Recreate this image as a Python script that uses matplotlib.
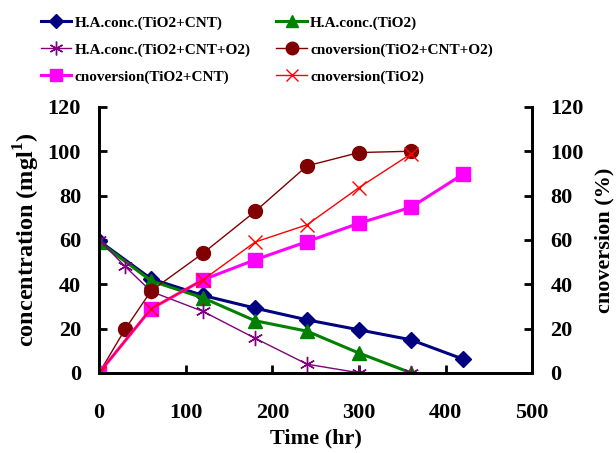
import numpy as np
import matplotlib.pyplot as plt

plt.rcParams['font.family'] = ['Liberation Serif', 'DejaVu Serif']
plt.rcParams['font.weight'] = 'bold'
plt.rcParams['mathtext.fontset'] = 'custom'
plt.rcParams['mathtext.rm'] = 'Liberation Serif:bold'

# concentration (left axis)
t_blue = [0, 60, 120, 180, 240, 300, 360, 420]
conc_tio2_cnt = [59.5, 42.4, 34.9, 29.2, 23.9, 19.4, 14.9, 6.2]
t_green = [0, 60, 120, 180, 240, 300, 360]
conc_tio2 = [59, 41.5, 33.8, 23.5, 18.8, 8.9, 0]
t_purple = [0, 30, 60, 120, 180, 240, 300, 360]
conc_tio2_cnt_o2 = [60, 48, 36.7, 27.7, 15.6, 3.9, 0, 0]

# conversion (right axis)
t_maroon = [0, 30, 60, 120, 180, 240, 300, 360]
conv_tio2_cnt_o2 = [0, 19.7, 37, 54, 72.8, 93.4, 99.4, 100]
t_mag = [0, 60, 120, 180, 240, 300, 360, 420]
conv_tio2_cnt = [0, 28.9, 42, 51, 59.2, 67.5, 74.7, 89.6]
t_red = [0, 60, 120, 180, 240, 300, 360]
conv_tio2 = [0, 29, 42, 59, 66.8, 83.6, 98.8]

fig = plt.figure(figsize=(6.16, 4.53), dpi=100)
ax = fig.add_axes([0.161, 0.177, 0.703, 0.587])
ax2 = ax.twinx()

l1, = ax.plot(t_blue, conc_tio2_cnt, color='#000080', marker='D', ms=8, lw=2.2, label='H.A.conc.(TiO2+CNT)')
l2, = ax.plot(t_green, conc_tio2, color='#008000', marker='^', ms=10, lw=2.2, label='H.A.conc.(TiO2)')
l3, = ax.plot(t_purple, conc_tio2_cnt_o2, color='#800080', marker=(6, 2, 0), ms=11, mew=1, lw=1, label='H.A.conc.(TiO2+CNT+O2)')
l4, = ax2.plot(t_maroon, conv_tio2_cnt_o2, color='#800000', marker='o', ms=10, lw=1, label='cnoversion(TiO2+CNT+O2)')
l5, = ax2.plot(t_mag, conv_tio2_cnt, color='#ff00ff', marker='s', ms=10, lw=2.2, label='cnoversion(TiO2+CNT)')
l6, = ax2.plot(t_red, conv_tio2, color='#ff0000', marker='x', ms=10, mew=1, lw=1, label='cnoversion(TiO2)')

for a in (ax, ax2):
    a.set_xlim(0, 500)
    a.set_ylim(0, 120)
    a.set_yticks(np.arange(0, 121, 20))
    a.spines['top'].set_visible(False)
    for s in a.spines.values():
        s.set_linewidth(2)
    a.tick_params(direction='in', width=2, length=6, labelsize=16, pad=13)
    for lab in a.get_yticklabels() + a.get_xticklabels():
        lab.set_fontweight('bold')
ax.set_xticks(np.arange(0, 501, 100))
ax.tick_params(axis='x', pad=22)

ax.set_xlabel('Time (hr)', fontsize=16, fontweight='bold', labelpad=4)
ax.set_ylabel('concentration (mgl$^{1}$)', fontsize=17.5, fontweight='bold', labelpad=4)
ax2.set_ylabel('cnoversion (%)', fontsize=16, fontweight='bold', labelpad=8)

handles = [l1, l3, l5, l2, l4, l6]
fig.legend(handles=handles, labels=[h.get_label() for h in handles], ncol=2,
           loc='upper left', bbox_to_anchor=(0.044, 0.995), frameon=False,
           prop={'family': 'Liberation Serif', 'weight': 'bold', 'size': 11},
           handlelength=2.0, handletextpad=0.2, columnspacing=1.7, labelspacing=0.85,
           markerscale=0.9)

fig.savefig('out.png', dpi=100)
